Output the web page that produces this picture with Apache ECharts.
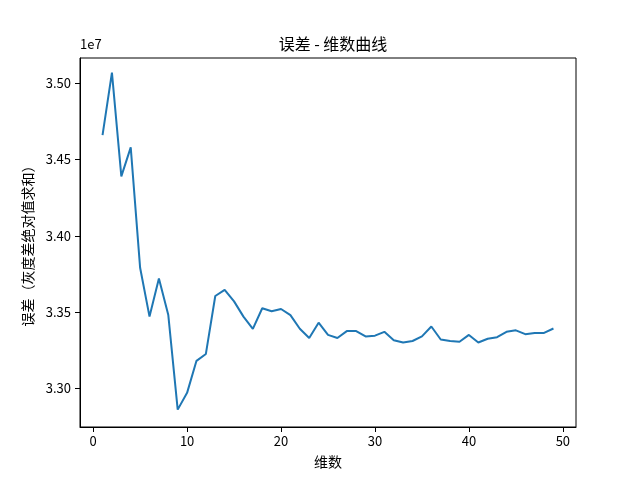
<!DOCTYPE html>
<html>
<head>
<meta charset="utf-8">
<script src="https://cdn.jsdelivr.net/npm/echarts@6/dist/echarts.min.js"></script>
<style>
  html, body { margin: 0; padding: 0; background: #fff; }
  #chart { width: 640px; height: 480px; }
</style>
</head>
<body>
<div id="chart"></div>
<script>
// 维数 (x)
const dims = [1, 2, 3, 4, 5, 6, 7, 8, 9, 10, 11, 12, 13, 14, 15, 16, 17, 18, 19, 20,
  21, 22, 23, 24, 25, 26, 27, 28, 29, 30, 31, 32, 33, 34, 35, 36, 37, 38, 39, 40,
  41, 42, 43, 44, 45, 46, 47, 48, 49]
// 误差, in units of 1e7
const errorE7 = [3.466, 3.507, 3.439, 3.458, 3.379, 3.347, 3.372, 3.348, 3.286, 3.297,
  3.318, 3.3225, 3.3605, 3.3645, 3.357, 3.347, 3.339, 3.3525, 3.3505, 3.352,
  3.348, 3.339, 3.333, 3.343, 3.335, 3.333, 3.3375, 3.3375, 3.334, 3.3345,
  3.337, 3.3315, 3.330, 3.331, 3.334, 3.3405, 3.332, 3.331, 3.3305, 3.335,
  3.330, 3.3325, 3.3335, 3.337, 3.338, 3.3355, 3.3363, 3.3363, 3.3392]
const xTicks = [0, 10, 20, 30, 40, 50]
const yTicks = [3.30, 3.35, 3.40, 3.45, 3.50]

const FONT = '"Noto Sans CJK SC", sans-serif'
const chart = echarts.init(document.getElementById('chart'), null, { renderer: 'canvas' })

chart.setOption({
  animation: false,
  backgroundColor: '#fff',
  grid: {
    left: 80, right: 64, top: 58, bottom: 53,
    show: true, borderColor: '#000', borderWidth: 1, backgroundColor: 'transparent'
  },
  title: {
    text: '误差 - 维数曲线',
    left: 328, top: 31, textAlign: 'center',
    textStyle: { fontFamily: FONT, fontSize: 16, fontWeight: 'normal', color: '#000' }
  },
  graphic: [{
    type: 'text', left: 80, top: 38,
    style: { text: '1e7', font: '13px ' + FONT, fill: '#000' }
  }],
  xAxis: {
    type: 'value',
    min: -1.4, max: 51.4,
    name: '维数', nameLocation: 'middle', nameGap: 28,
    nameTextStyle: { fontFamily: FONT, fontSize: 14, color: '#000' },
    axisLine: { show: true, onZero: false, lineStyle: { color: '#000', width: 1 } },
    axisTick: { show: true, inside: false, length: 5, customValues: xTicks, lineStyle: { color: '#000' } },
    axisLabel: { customValues: xTicks, margin: 8, fontFamily: FONT, fontSize: 13, color: '#000' },
    splitLine: { show: false }
  },
  yAxis: {
    type: 'value',
    min: 3.2746, max: 3.5166,
    name: '误差（灰度差绝对值求和）', nameLocation: 'middle', nameGap: 44,
    nameTextStyle: { fontFamily: FONT, fontSize: 14, color: '#000' },
    axisLine: { show: true, onZero: false, lineStyle: { color: '#000', width: 1 } },
    axisTick: { show: true, inside: false, length: 5, customValues: yTicks, lineStyle: { color: '#000' } },
    axisLabel: {
      customValues: yTicks, margin: 9, fontFamily: FONT, fontSize: 13, color: '#000',
      formatter: v => v.toFixed(2)
    },
    splitLine: { show: false }
  },
  series: [{
    type: 'line',
    data: dims.map((d, i) => [d, errorE7[i]]),
    showSymbol: false,
    lineStyle: { color: '#1f77b4', width: 2 },
    itemStyle: { color: '#1f77b4' }
  }]
})
</script>
</body>
</html>
